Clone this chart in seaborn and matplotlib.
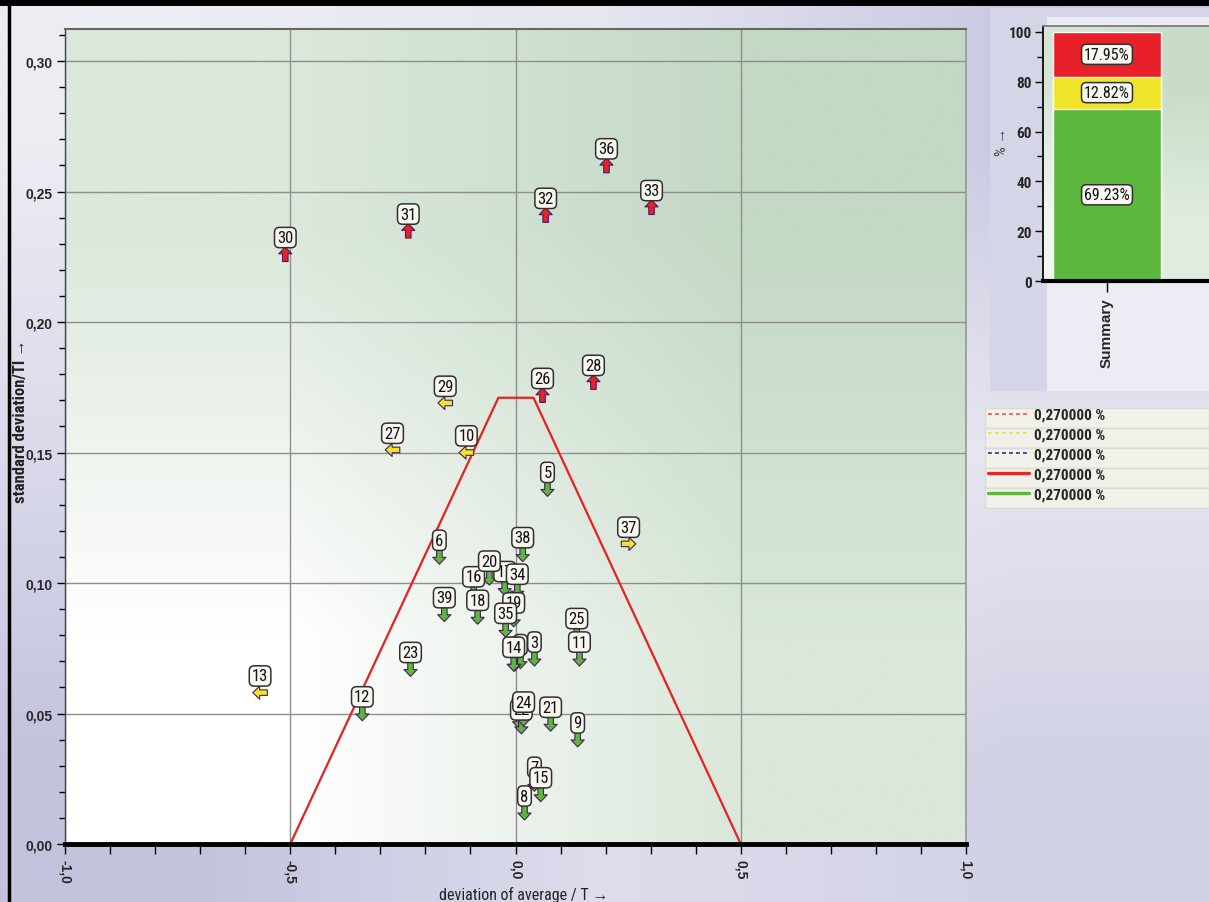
import numpy as np
import pandas as pd
import matplotlib
matplotlib.use("Agg")
import matplotlib.pyplot as plt
import seaborn as sns
from matplotlib.path import Path
from matplotlib.lines import Line2D
from matplotlib.patches import Rectangle
from matplotlib.colors import to_rgb
from matplotlib.ticker import MultipleLocator, FuncFormatter
from matplotlib import font_manager

# ---- data ----
point_ids = [1, 4, 2, 22, 7, 16, 17, 19, 30, 31, 32, 36, 33, 28, 26, 29, 27, 10, 5, 37,
             38, 6, 20, 34, 39, 18, 35, 25, 11, 3, 14, 23, 13, 12, 24, 21, 9, 15, 8]
dev_average = [0.011, -0.002, 0.008, 0.013, 0.042, -0.093, -0.024, -0.004, -0.511, -0.238,
               0.067, 0.202, 0.302, 0.173, 0.060, -0.156, -0.273, -0.109, 0.071, 0.251,
               0.016, -0.169, -0.058, 0.004, -0.158, -0.084, -0.022, 0.136, 0.142, 0.042,
               -0.004, -0.233, -0.567, -0.340, 0.018, 0.078, 0.138, 0.056, 0.020]
std_dev = [0.070, 0.069, 0.047, 0.045, 0.023, 0.096, 0.098, 0.086, 0.226, 0.235,
           0.241, 0.260, 0.244, 0.177, 0.172, 0.169, 0.151, 0.150, 0.136, 0.115,
           0.111, 0.110, 0.102, 0.097, 0.088, 0.087, 0.082, 0.080, 0.071, 0.071,
           0.069, 0.067, 0.058, 0.050, 0.048, 0.046, 0.040, 0.019, 0.012]
status = ["green"] * 8 + ["red"] * 7 + ["yellow"] * 3 + ["green", "yellow"] + \
         ["green"] * 12 + ["yellow"] + ["green"] * 6
direction = ["down"] * 8 + ["up"] * 7 + ["left"] * 3 + ["down", "right"] + \
            ["down"] * 12 + ["left"] + ["down"] * 6

limit_x = [-0.5, -0.038, 0.040, 0.5]
limit_y = [0.0, 0.171, 0.171, 0.0]

summary_categories = ["green", "yellow", "red"]
summary_pct = [69.23, 12.82, 17.95]

legend_labels = ["0,270000 %"] * 5
legend_colors = ["#f06a6a", "#e6e650", "#4a4aa8", "#e82828", "#5cb83c"]
legend_styles = [(0, (2, 1.6)), (0, (2, 1.6)), (0, (2, 1.6)), "-", "-"]

status_colors = {"red": "#e8202a", "yellow": "#f0e428", "green": "#5cb83c"}

# ---- style ----
sns.set_theme(style="white")
installed = {f.name for f in font_manager.fontManager.ttflist}
narrow = [n for n in ["Liberation Sans Narrow", "Roboto Condensed", "Open Sans Condensed"]
          if n in installed]
NARROW = narrow + ["Liberation Sans", "DejaVu Sans"]
WIDE = ["Liberation Sans", "DejaVu Sans"]
plt.rcParams["font.family"] = NARROW
small = 0 if narrow else 1.5


def arrow_path(rot):
    pts = np.array([(0, 1), (0.9, 0.05), (0.38, 0.05), (0.38, -1), (-0.38, -1),
                    (-0.38, 0.05), (-0.9, 0.05), (0, 1)])
    c, s = np.cos(rot), np.sin(rot)
    r = pts @ np.array([[c, s], [-s, c]])
    codes = [Path.MOVETO] + [Path.LINETO] * 6 + [Path.CLOSEPOLY]
    return Path(r, codes)


arrow_markers = {"up": arrow_path(0), "left": arrow_path(np.pi / 2),
                 "down": arrow_path(np.pi), "right": arrow_path(-np.pi / 2)}


def gradient(ax, colors, **kw):
    img = np.array([[to_rgb(c) for c in row] for row in colors])
    ax.imshow(img, extent=[0, 1, 0, 1], transform=ax.transAxes, aspect="auto",
              interpolation="bilinear", zorder=0, **kw)


fig = plt.figure(figsize=(12.09, 9.03), dpi=100)
W, H = 1209, 903

# background of the whole window
bg = fig.add_axes([0, 0, 1, 1], zorder=-10)
gradient(bg, [["#ececf3", "#e6e6f1", "#c9c9e2"],
              ["#dadaeb", "#efeff5", "#e6e6f0"],
              ["#c3c3de", "#dddded", "#d2d2e6"]])
bg.set_xlim(0, W)
bg.set_ylim(H, 0)
bg.axis("off")
bg.add_patch(Rectangle((990, 9), 219, 383, fc="#d5d5e8", ec="none", zorder=1))
bg.add_patch(Rectangle((1047, 18), 162, 374, fc="#ececf4", ec="none", zorder=1))
for i in range(5):
    bg.add_patch(Rectangle((985, 409 + 20 * i), 224, 20, fc="#f1f1ea", ec="#dcdcd6",
                           lw=1, zorder=1))
bg.plot([0, W], [3, 3], color="black", lw=5, zorder=2)
bg.plot([9, 9], [3, H], color="black", lw=2.5, zorder=2)

# ---- main scatter ----
ax = fig.add_axes([65 / W, 1 - 845 / H, (966 - 65) / W, (845 - 30) / H])
gradient(ax, [["#dce8dc", "#c4d8c6"], ["#ffffff", "#dae7da"]])

df = pd.DataFrame({"id": point_ids, "dev": dev_average, "sd": std_dev,
                   "status": status, "direction": direction})

ax.plot(limit_x, limit_y, color="#e82020", lw=1.6, zorder=2)
sns.scatterplot(data=df, x="dev", y="sd", hue="status", style="direction",
                markers=arrow_markers, palette=status_colors, s=110,
                edgecolor="#4a1d5e", linewidth=0.8, legend=False, ax=ax, zorder=3)

for pid, x, y in zip(point_ids, dev_average, std_dev):
    ax.annotate(str(pid), (x, y), xytext=(0, 12), textcoords="offset points",
                ha="center", va="center", fontsize=12 - small, color="#111111",
                bbox=dict(boxstyle="round,pad=0.16,rounding_size=0.3", fc="#f7f7f0",
                          ec="#303030", lw=1.1), zorder=4)

ax.set_xlim(-1, 1)
ax.set_ylim(0, 0.3123)
ax.xaxis.set_major_locator(MultipleLocator(0.5))
ax.xaxis.set_minor_locator(MultipleLocator(0.1))
ax.yaxis.set_major_locator(MultipleLocator(0.05))
ax.yaxis.set_minor_locator(MultipleLocator(0.01))
ax.xaxis.set_major_formatter(FuncFormatter(lambda v, p: f"{abs(v) if abs(v) < 1e-9 else v:.1f}".replace(".", ",")))
ax.yaxis.set_major_formatter(FuncFormatter(lambda v, p: f"{v:.2f}".replace(".", ",")))
ax.grid(True, which="major", color="#8e8e8e", lw=1)
for g in ax.get_xgridlines() + ax.get_ygridlines():
    g.set_zorder(1)
ax.tick_params(which="both", direction="out", color="black", width=1,
               bottom=True, left=True)
ax.tick_params(axis="x", which="both", length=7, pad=4)
ax.tick_params(axis="y", which="major", length=6, pad=3)
ax.tick_params(axis="y", which="minor", length=4)
for lab in ax.get_xticklabels():
    lab.set_rotation(270)
    lab.set_fontfamily(WIDE)
    lab.set_fontweight("bold")
    lab.set_fontsize(10)
for lab in ax.get_yticklabels():
    lab.set_fontfamily(WIDE)
    lab.set_fontweight("bold")
    lab.set_fontsize(10)
ax.spines["bottom"].set_linewidth(3.5)
ax.spines["bottom"].set_color("black")
ax.spines["left"].set_color("#444444")
ax.spines["left"].set_linewidth(1)
ax.spines["top"].set_color("#666666")
ax.spines["top"].set_linewidth(1.5)
ax.spines["right"].set_color("#999999")
ax.set_xlabel("deviation of average / T →", fontsize=11.5 - small, color="#222222")
ax.set_ylabel("standard deviation/TI →", fontsize=12 - small, fontweight="bold",
              color="#222222")
ax.xaxis.set_label_coords(0.509, -0.052)
ax.yaxis.set_label_coords(-0.041, 0.52)

# ---- summary stacked bar ----
bx = fig.add_axes([1043 / W, 1 - 282 / H, 172 / W, (282 - 27) / H])
gradient(bx, [["#d6e4d6", "#c8dcc8"], ["#f2f6f2", "#e0ece0"]])
tops = np.cumsum(summary_pct)
for cat, top in reversed(list(zip(summary_categories, tops))):
    sns.barplot(x=["Summary"], y=[top], color=status_colors[cat], saturation=1,
                width=0.8, ax=bx, zorder=2)
for pct, top in zip(summary_pct, tops):
    bx.text(0, top - pct / 2, f"{pct:.2f}%", ha="center", va="center",
            fontsize=11.5 - small, color="#111111", zorder=4,
            bbox=dict(boxstyle="round,pad=0.16,rounding_size=0.3", fc="#f7f7f0",
                      ec="#303030", lw=1.1))
bx.set_xlim(-0.474, 0.800)
bx.set_ylim(0, 102.4)
bx.yaxis.set_major_locator(MultipleLocator(20))
bx.yaxis.set_minor_locator(MultipleLocator(10))
bx.tick_params(which="both", direction="out", color="black", width=1, left=True,
               bottom=True)
bx.tick_params(axis="y", which="major", length=6, pad=2, labelsize=11 - small)
bx.tick_params(axis="y", which="minor", length=4)
bx.tick_params(axis="x", length=8, pad=4)
for lab in bx.get_yticklabels():
    lab.set_fontweight("bold")
for lab in bx.get_xticklabels():
    lab.set_rotation(90)
    lab.set_fontfamily(WIDE)
    lab.set_fontweight("bold")
    lab.set_fontsize(11)
bx.spines["bottom"].set_linewidth(3)
bx.spines["bottom"].set_color("black")
bx.spines["left"].set_color("black")
bx.spines["top"].set_color("#777777")
bx.spines["right"].set_visible(False)
bx.set_xlabel("")
bx.set_ylabel("% →", fontsize=11, color="#444444")
bx.yaxis.set_label_coords(-0.2, 0.55)

# ---- limit legend ----
handles = [Line2D([], [], color=c, ls=s, lw=1.4 if i < 3 else 2.4)
           for i, (c, s) in enumerate(zip(legend_colors, legend_styles))]
fig.legend(handles, legend_labels, loc="upper left",
           bbox_to_anchor=(988 / W, 1 - 409 / H), frameon=False,
           prop=dict(weight="bold", size=11 - small), handlelength=2.7,
           handletextpad=0.3, labelspacing=0.38, borderpad=0, borderaxespad=0)

fig.savefig("out.png", dpi=100)
